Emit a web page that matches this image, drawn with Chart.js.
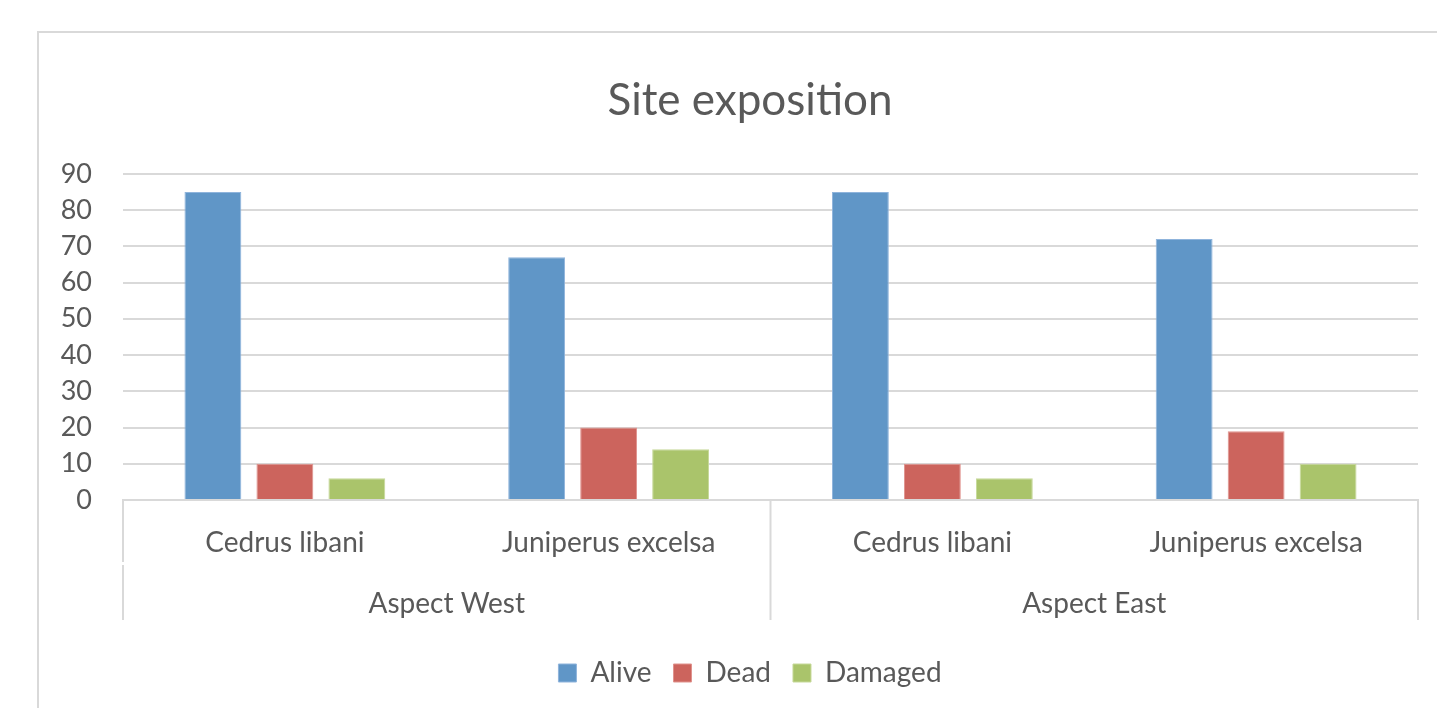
<!DOCTYPE html>
<html>
<head>
<meta charset="utf-8">
<script src="https://cdn.jsdelivr.net/npm/chart.js"></script>
<style>
  html, body { margin: 0; padding: 0; background: #fff; overflow: hidden; width: 1437px; height: 708px; }
  #frame { position: absolute; left: 37px; top: 31px; width: 1500px; height: 800px; border: 2px solid #d9d9d9; }
  #chart { position: absolute; left: 0; top: 0; }
</style>
</head>
<body>
<div id="frame"></div>
<canvas id="chart" width="1460" height="708"></canvas>
<script>
// species per aspect (first tier), aspect groups (second tier)
const species = ['Cedrus libani', 'Juniperus excelsa', 'Cedrus libani', 'Juniperus excelsa'];
const aspects = ['Aspect West', 'Aspect East'];

const alive = [85, 67, 85, 72];
const dead = [10, 20, 10, 19];
const damaged = [6, 14, 6, 10];

const textColor = '#595959';
const lineColor = '#d9d9d9';
const fontFamily = 'Lato, "Open Sans", sans-serif';

// vertical separators of the two-tier category axis
const tierLines = {
    id: 'tierLines',
    afterDraw(chart) {
        const ctx = chart.ctx;
        const x = chart.scales.x;
        const x2 = chart.scales.x2;
        const area = chart.chartArea;
        const mid = (x.getPixelForValue(1) + x.getPixelForValue(2)) / 2;
        const x2Bottom = x2.top + 55;
        ctx.save();
        ctx.strokeStyle = lineColor;
        ctx.lineWidth = 2;
        ctx.beginPath();
        // left edge: two segments with a small break between tiers
        ctx.moveTo(area.left, area.bottom);
        ctx.lineTo(area.left, x.bottom - 3);
        ctx.moveTo(area.left, x2.top);
        ctx.lineTo(area.left, x2Bottom);
        [mid, area.right].forEach(px => {
            ctx.moveTo(px, area.bottom);
            ctx.lineTo(px, x2Bottom);
        });
        ctx.stroke();
        ctx.restore();
    }
};

const ctx = document.getElementById('chart').getContext('2d');
const myChart = new Chart(ctx, {
    type: 'bar',
    data: {
        labels: species,
        datasets: [
            { label: 'Alive', data: alive, backgroundColor: '#6096c7', borderColor: '#8fb4dc', borderWidth: 1 },
            { label: 'Dead', data: dead, backgroundColor: '#cc645d', borderColor: '#e0938e', borderWidth: 1 },
            { label: 'Damaged', data: damaged, backgroundColor: '#aac46b', borderColor: '#c6d99a', borderWidth: 1 }
        ]
    },
    options: {
        responsive: false,
        animation: false,
        categoryPercentage: 0.667,
        barPercentage: 0.79,
        layout: { padding: { left: 40, right: 0, top: 0, bottom: 11 } },
        plugins: {
            title: {
                display: true,
                text: 'Site exposition',
                color: textColor,
                font: { family: fontFamily, size: 44, weight: 'normal', lineHeight: 1.2 },
                padding: { top: 74, bottom: 47 }
            },
            legend: {
                position: 'bottom',
                labels: {
                    color: textColor,
                    font: { family: fontFamily, size: 28 },
                    boxWidth: 18,
                    boxHeight: 18,
                    padding: 22
                }
            },
            tooltip: { enabled: false }
        },
        scales: {
            y: {
                min: 0,
                max: 90,
                ticks: { stepSize: 10, color: textColor, font: { family: fontFamily, size: 27 }, padding: 31 },
                grid: { color: lineColor, lineWidth: 2, drawTicks: false },
                border: { display: false },
                afterFit(scale) { scale.width = 83; }
            },
            // empty right-hand spacer so title and legend centre like the original frame
            yRight: {
                position: 'right',
                display: true,
                ticks: { display: false },
                grid: { display: false },
                border: { display: false },
                afterFit(scale) { scale.width = 42; }
            },
            x: {
                ticks: { color: textColor, font: { family: fontFamily, size: 28 }, padding: 18, autoSkip: false, maxRotation: 0 },
                grid: { display: false },
                border: { color: lineColor, width: 2 },
                afterFit(scale) { scale.height = 65; }
            },
            x2: {
                type: 'category',
                position: 'bottom',
                labels: aspects,
                offset: true,
                ticks: { color: textColor, font: { family: fontFamily, size: 28 }, padding: 14, maxRotation: 0 },
                grid: { display: false },
                border: { display: false },
                afterFit(scale) { scale.height = 72; }
            }
        }
    },
    plugins: [tierLines]
});
</script>
</body>
</html>
